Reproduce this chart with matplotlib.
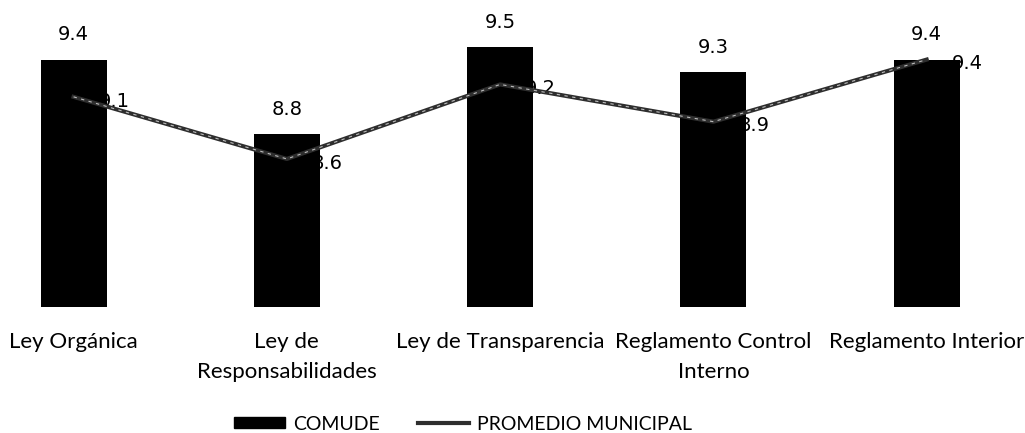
import numpy as np
import matplotlib.pyplot as plt
from matplotlib.lines import Line2D
from matplotlib.patches import Patch

categorias = ['Ley Orgánica', 'Ley de\nResponsabilidades', 'Ley de Transparencia',
              'Reglamento Control\nInterno', 'Reglamento Interior']
comude = [9.4, 8.8, 9.5, 9.3, 9.4]
promedio = [9.1, 8.6, 9.2, 8.9, 9.4]

label_font = ['Lato', 'DejaVu Sans']

fig = plt.figure(figsize=(10.25, 4.33), dpi=100)
ax = fig.add_axes([0, (433 - 306.7) / 433, 1, 306.7 / 433])

x = np.arange(len(categorias))
ax.bar(x, comude, width=0.31, color='black', zorder=2)
ax.plot(x, promedio, color='#2e2e2e', lw=3, zorder=3)
ax.plot(x, promedio, color='#bdbdbd', lw=0.8, ls=(0, (3, 4)), zorder=4)

for xi, v in zip(x, comude):
    ax.annotate(f'{v:.1f}', (xi, v), xytext=(0, 18), textcoords='offset points',
                ha='center', va='center', fontsize=14, color='black')
for xi, v in zip(x, promedio):
    ax.annotate(f'{v:.1f}', (xi, v), xytext=(18, -3), textcoords='offset points',
                ha='left', va='center', fontsize=14, color='black', zorder=1)

ax.set_xlim(-0.345, 4.461)
ax.set_ylim(7.41, 9.88)
ax.set_xticks(x)
ax.set_xticklabels(categorias, fontsize=16, family=label_font, linespacing=1.65)
ax.tick_params(axis='x', length=0, pad=18)
ax.set_yticks([])
for s in ax.spines.values():
    s.set_visible(False)

handles = [Patch(facecolor='black', edgecolor='black'),
           Line2D([0], [0], color='#2e2e2e', lw=3)]
fig.legend(handles, ['COMUDE', 'PROMEDIO MUNICIPAL'], loc='center',
           bbox_to_anchor=(463 / 1025, 1 - 424 / 433), ncol=2, frameon=False,
           prop={'family': label_font, 'size': 14}, handlelength=2.6,
           handleheight=0.5, handletextpad=0.4, columnspacing=2.0,
           borderpad=0.1)

fig.savefig('out.png', dpi=100)
